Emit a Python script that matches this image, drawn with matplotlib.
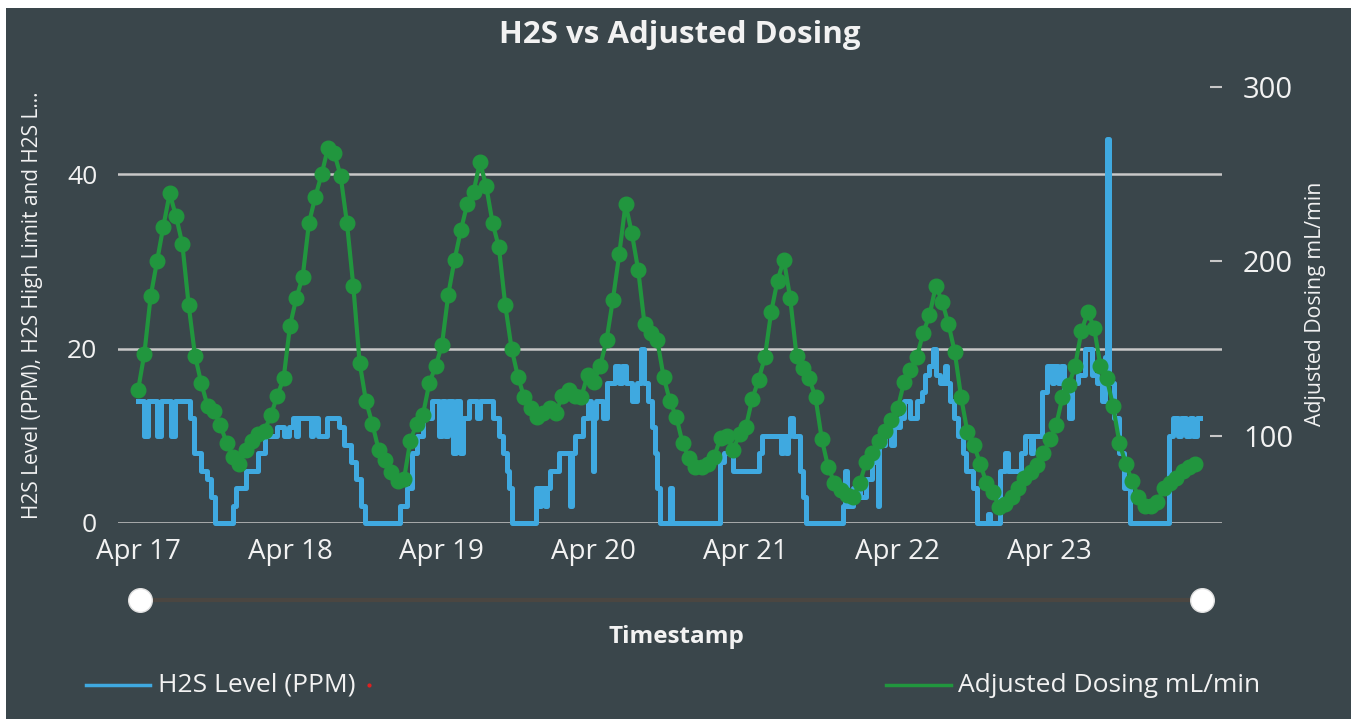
import matplotlib.pyplot as plt
from matplotlib.lines import Line2D
from matplotlib.patches import Rectangle

plt.rcParams['font.family'] = ['Open Sans', 'DejaVu Sans']

# fechas del eje x (horas desde Apr 17 00:00)
day_hours = [0, 24, 48, 72, 96, 120, 144]
day_labels = ['Apr 17', 'Apr 18', 'Apr 19', 'Apr 20', 'Apr 21', 'Apr 22', 'Apr 23']

# dosificacion ajustada, un punto por hora
dosing_hours = list(range(168))
dosing_ml_min = [
    126, 147, 180, 200, 220, 239, 226, 210, 175, 146, 130, 117, 114, 106, 96, 88, 84, 92, 97, 101, 103, 112, 123, 133,
    163, 179, 191, 222, 237, 250, 265, 262, 249, 222, 186, 142, 120, 107, 92, 86, 79, 74, 75, 97, 107, 112, 130, 140,
    152, 181, 201, 218, 233, 240, 257, 243, 222, 208, 175, 150, 134, 122, 116, 111, 113, 116, 113, 123, 126, 123, 122, 135,
    131, 140, 155, 178, 204, 233, 216, 195, 164, 159, 155, 134, 120, 111, 96, 87, 82, 82, 84, 88, 99, 100, 92, 101,
    105, 121, 132, 145, 171, 189, 201, 179, 146, 139, 133, 122, 98, 82, 73, 69, 66, 65, 73, 85, 90, 97, 103, 109,
    116, 131, 138, 145, 159, 169, 186, 177, 164, 148, 122, 102, 95, 84, 73, 68, 59, 61, 65, 70, 76, 79, 83, 90,
    98, 106, 122, 129, 140, 160, 171, 162, 140, 133, 117, 96, 84, 74, 65, 60, 60, 62, 70, 73, 76, 80, 82, 84,
]

# nivel de H2S (escalones: hora de inicio, valor)
h2s_hours = [
    0, 1.0, 1.5, 3.0, 3.6, 5.2, 5.8, 8.2, 8.9, 9.9, 10.9, 11.5, 12.1, 15.0, 15.4, 17.0, 18.9, 20.0, 22.0, 23.0,
    23.8, 24.5, 25.0, 25.3, 27.3, 27.6, 28.5, 29.8, 31.8, 32.6, 33.6, 34.4, 35.2, 35.8,
    41.3, 42.5, 43.3, 44.0, 45.0, 46.5, 47.5, 48.0, 48.5, 49.0, 49.7, 50.2, 50.8, 51.3, 52.3, 53.5, 54.0, 56.0,
    57.0, 57.7, 58.2, 58.6, 59.1,
    62.8, 63.3, 63.7, 64.2, 64.6, 65.0, 66.5, 68.3, 68.5, 69.0, 70.3, 71.0, 71.6, 71.8, 72.0, 72.3, 73.4, 74.0,
    75.4, 76.0, 76.5, 77.0, 78.0, 78.8, 79.5, 79.9, 80.5, 81.2, 81.6, 82.0, 82.5,
    84.0, 84.3, 91.9, 92.6, 94.0, 98.1, 98.5, 101.5, 101.8, 102.3, 102.6, 102.9, 103.5, 104.6, 105.0, 105.5,
    111.4, 111.6, 111.9, 113.0, 114.0, 115.0, 116.0, 116.8, 117.1, 118.0, 119.0, 119.4, 120.4, 121.0, 122.0, 123.0,
    123.8, 124.3, 125.0, 125.5, 126.0, 126.6, 127.5, 127.8, 128.3, 128.8, 129.5, 130.3, 130.8, 131.8, 132.5, 134.2, 134.5,
    136.2, 137.0, 137.4, 139.5, 140.1, 141.0, 141.4, 142.8, 143.6, 144.3, 144.6, 145.3, 145.8, 146.3, 147.0, 147.5,
    148.5, 149.6, 150.6, 151.4, 152.2, 152.8, 153.1, 153.4, 154.2, 155.0, 155.8, 156.6,
    162.8, 163.5, 164.3, 164.8, 165.5, 166.2, 166.6, 167.2, 167.8,
]
h2s_ppm = [
    14, 10, 14, 10, 14, 10, 14, 12, 8, 6, 5, 3, 0, 2, 4, 6, 8, 10, 11, 10,
    11, 12, 10, 12, 10, 12, 10, 12, 11, 9, 7, 5, 2, 0,
    2, 4, 8, 10, 12, 14, 10, 14, 10, 14, 8, 14, 8, 12, 14, 12, 14, 12,
    10, 8, 6, 4, 0,
    4, 2, 4, 2, 4, 6, 8, 2, 8, 10, 12, 14, 12, 6, 12, 14, 12, 16,
    18, 16, 18, 16, 14, 16, 20, 16, 14, 11, 8, 4, 0,
    4, 0, 7, 8, 6, 8, 10, 8, 10, 8, 10, 12, 10, 6, 3, 0,
    2, 6, 2, 4, 3, 5, 7, 2, 9, 11, 9, 11, 12, 14, 12, 14,
    15, 17, 18, 20, 17, 16, 18, 16, 14, 12, 10, 8, 6, 4, 0, 1, 0,
    6, 8, 6, 8, 10, 8, 10, 15, 18, 16, 18, 16, 18, 15, 12, 16,
    17, 20, 17, 16, 14, 19, 44, 16, 12, 8, 4, 0,
    10, 12, 10, 12, 10, 12, 10, 12, 12,
]

bg = '#3a464b'
blue = '#3fa9e0'
green = '#21963e'
grid_c = '#c8c8c8'
txt = '#f2f2f2'
W, H = 1351, 719

fig = plt.figure(figsize=(W / 100, H / 100), dpi=100, facecolor='white')
fig.add_artist(Rectangle((6 / W, 0), 1 - 6 / W, 1 - 8 / H, transform=fig.transFigure,
                         facecolor=bg, edgecolor='none', zorder=-10))

ax = fig.add_axes([118 / W, (H - 523) / H, 1104 / W, 436 / H])
ax.set_facecolor('none')
ax2 = ax.twinx()

ax.plot(h2s_hours, h2s_ppm, drawstyle='steps-post', color=blue, lw=3.6, clip_on=False)
ax2.plot(dosing_hours, dosing_ml_min, '-o', color=green, lw=3, ms=10.5, clip_on=False)

ax.set_xlim(-3.16, 171.2)
ax.set_ylim(0, 50)
ax2.set_ylim(50, 300)

ax.set_yticks([0, 20, 40])
ax.grid(axis='y', color=grid_c, lw=1.8)
ax.set_axisbelow(True)
ax.set_xticks(day_hours, day_labels)
ax.tick_params(axis='y', length=0, pad=15, labelsize=19, labelcolor=txt)
ax.tick_params(axis='x', length=0, pad=11, labelsize=20, labelcolor=txt)
ax2.set_yticks([100, 200, 300])
ax2.tick_params(axis='y', direction='in', length=8.6, width=1.5, color=grid_c, pad=15,
                labelsize=21, labelcolor=txt)
for a in (ax, ax2):
    for s in a.spines.values():
        s.set_visible(False)

fig.text(0.503, 1 - 35 / H, 'H2S vs Adjusted Dosing', ha='center', va='center',
         fontsize=22.5, fontweight='bold', color=txt)
fig.text(33 / W, 1 - 305 / H, 'H2S Level (PPM), H2S High Limit and H2S L\u2026', rotation=90,
         ha='center', va='center', fontsize=15, color=txt)
fig.text(1315 / W, 1 - 304 / H, 'Adjusted Dosing mL/min', rotation=90,
         ha='center', va='center', fontsize=15.3, color=txt)
fig.text(676 / W, 1 - 637 / H, 'Timestamp', ha='center', va='center',
         fontsize=17.5, fontweight='bold', color=txt)

# slider
sy = 1 - 600 / H
fig.add_artist(Line2D([140 / W, 1202 / W], [sy, sy], color='#4b4641', lw=3))
for sx in (140, 1202):
    fig.add_artist(Line2D([sx / W], [sy], marker='o', ms=17, mfc='white', mec='#e0e0e0', lw=0))

# leyenda
ly = 1 - 685 / H
fig.add_artist(Line2D([86 / W, 150 / W], [ly, ly], color=blue, lw=2.5))
fig.text(158 / W, ly, 'H2S Level (PPM)', va='center', fontsize=19, color=txt)
fig.add_artist(Line2D([369 / W], [ly], marker='o', ms=2, color='#e02020', lw=0))
fig.add_artist(Line2D([886 / W, 951 / W], [ly, ly], color=green, lw=2.5))
fig.text(958 / W, ly, 'Adjusted Dosing mL/min', va='center', fontsize=19, color=txt)

fig.savefig('out.png', dpi=100, facecolor='white')
